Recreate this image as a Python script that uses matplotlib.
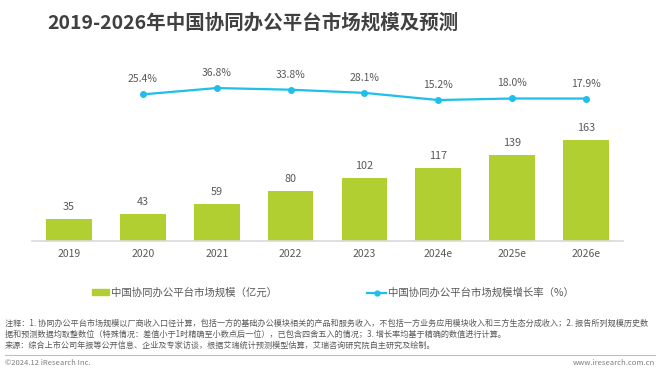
import matplotlib
matplotlib.use('Agg')
from matplotlib import pyplot as plt
from matplotlib.patches import Patch
from matplotlib.lines import Line2D

plt.rcParams['font.family'] = ['Noto Sans CJK SC', 'DejaVu Sans']

### DATA
years = ['2019', '2020', '2021', '2022', '2023', '2024e', '2025e', '2026e']
market_size = [35, 43, 59, 80, 102, 117, 139, 163]
growth_years = ['2020', '2021', '2022', '2023', '2024e', '2025e', '2026e']
growth_rate = [25.4, 36.8, 33.8, 28.1, 15.2, 18.0, 17.9]

title = '2019-2026年中国协同办公平台市场规模及预测'
bar_label = '中国协同办公平台市场规模（亿元）'
line_label = '中国协同办公平台市场规模增长率（%）'
note = ('注释：1. 协同办公平台市场规模以厂商收入口径计算，包括一方的基础办公模块相关的产品和服务收入，不包括一方业务应用模块收入和三方生态分成收入；2. 报告所列规模历史数\n'
        '据和预测数据均取整数位（特殊情况：差值小于1时精确至小数点后一位），已包含四舍五入的情况；3. 增长率均基于精确的数值进行计算。\n'
        '来源：综合上市公司年报等公开信息、企业及专家访谈，根据艾瑞统计预测模型估算，艾瑞咨询研究院自主研究及绘制。')

bar_color = '#b2cf32'
line_color = '#1ebfea'
text_color = '#595959'

### FIGURE
W, H = 660, 371
fig = plt.figure(figsize=(W / 100, H / 100), dpi=100)
fig.patch.set_facecolor('white')

ax = fig.add_axes([32 / W, (H - 241) / H, (623 - 32) / W, 181 / H])
x = list(range(len(years)))
ax.bar(x, market_size, width=0.62, color=bar_color, zorder=2)
ax.set_xlim(-0.5, 7.5)
ax.set_ylim(0, 181 / 0.62)
for xi, v in zip(x, market_size):
    ax.annotate(str(v), (xi, v), xytext=(0, 7), textcoords='offset pixels',
                ha='center', va='bottom', fontsize=7.8, color=text_color)

ax.set_xticks(x)
ax.set_xticklabels(years, fontsize=7.5, color=text_color)
ax.tick_params(axis='x', length=0, pad=6)
ax.set_yticks([])
for side in ['top', 'right', 'left']:
    ax.spines[side].set_visible(False)
ax.spines['bottom'].set_color('#d9d9d9')
ax.spines['bottom'].set_linewidth(1.2)

# growth rate on a hidden secondary axis
ax2 = ax.twinx()
gx = [years.index(y) for y in growth_years]
ax2.plot(gx, growth_rate, color=line_color, lw=1.6, marker='o', ms=4, zorder=3)
ax2.set_ylim(-132.5 / 0.556, 48.5 / 0.556)
ax2.set_yticks([])
ax2.axis('off')
for xi, v in zip(gx, growth_rate):
    ax2.annotate(f'{v:.1f}%', (xi, v), xytext=(0, 10), textcoords='offset pixels',
                 ha='center', va='bottom', fontsize=7.5, color=text_color)

### TEXTS
fig.text(47 / W, 1 - 23 / H, title, fontsize=14, fontweight='bold', color='#404040',
         ha='left', va='center')

leg_y = 1 - 293 / H
fig.legend(handles=[Patch(color=bar_color, label=bar_label)],
           loc='center left', bbox_to_anchor=(83 / W, leg_y), frameon=False,
           fontsize=7.5, handlelength=1.6, handleheight=0.5, handletextpad=0.2,
           labelcolor=text_color)
fig.legend(handles=[Line2D([], [], color=line_color, marker='o', ms=3.5, lw=1.6, label=line_label)],
           loc='center left', bbox_to_anchor=(358 / W, leg_y), frameon=False,
           fontsize=7.5, handlelength=1.8, handletextpad=0.2, labelcolor=text_color)

fig.text(5 / W, 1 - 319 / H, note, fontsize=5.85, color=text_color, ha='left', va='top',
         linespacing=1.3)
fig.add_artist(Line2D([5 / W, 655 / W], [1 - 355 / H] * 2, color='#bfbfbf', lw=0.8,
                      transform=fig.transFigure))
fig.text(5 / W, 1 - 363 / H, '©2024.12 iResearch Inc.', fontsize=5.5, color='#7f7f7f',
         ha='left', va='center')
fig.text(655 / W, 1 - 363 / H, 'www.iresearch.com.cn', fontsize=5.5, color='#7f7f7f',
         ha='right', va='center')

fig.savefig('out.png', dpi=100)
